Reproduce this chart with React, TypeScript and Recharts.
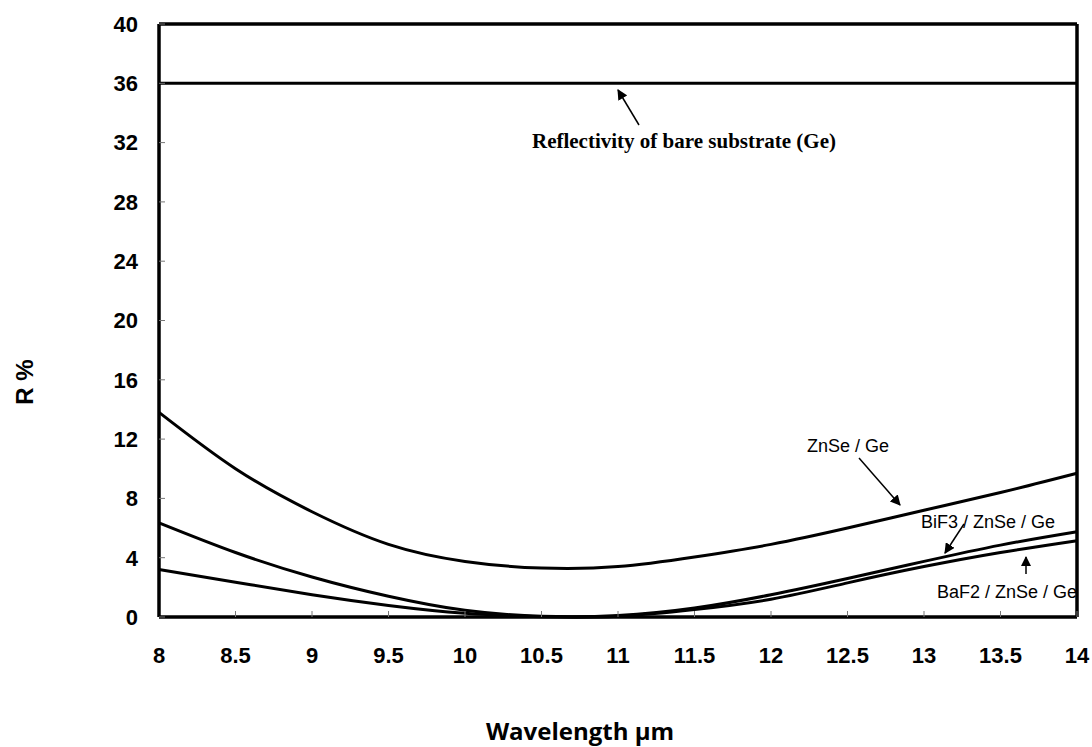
import React from "react";
import { LineChart, Line, XAxis, YAxis, ReferenceLine } from "recharts";

// wavelength (µm)
const wavelength = [8, 8.5, 9, 9.5, 10, 10.5, 11, 11.5, 12, 12.5, 13, 13.5, 14];
// reflectance R %
const bareGe = [36, 36, 36, 36, 36, 36, 36, 36, 36, 36, 36, 36, 36];
const znseGe = [13.8, 10.0, 7.1, 4.9, 3.75, 3.3, 3.4, 4.05, 4.9, 6.0, 7.2, 8.4, 9.7];
const bif3ZnseGe = [6.35, 4.35, 2.7, 1.4, 0.45, 0.05, 0.1, 0.6, 1.5, 2.6, 3.75, 4.85, 5.75];
const baf2ZnseGe = [3.2, 2.35, 1.5, 0.78, 0.25, 0.02, 0.05, 0.5, 1.2, 2.3, 3.4, 4.35, 5.15];

const xTicks = [8, 8.5, 9, 9.5, 10, 10.5, 11, 11.5, 12, 12.5, 13, 13.5, 14];
const yTicks = [0, 4, 8, 12, 16, 20, 24, 28, 32, 36, 40];

const data = wavelength.map((w, i) => ({
  w,
  bare: bareGe[i],
  znse: znseGe[i],
  bif3: bif3ZnseGe[i],
  baf2: baf2ZnseGe[i],
}));

const tickFont = {
  fontFamily: "'Liberation Sans', Arial, sans-serif",
  fontWeight: "bold" as const,
  fontSize: 22,
  fill: "#000",
};

const lineProps = {
  type: "natural" as const,
  stroke: "#000",
  strokeWidth: 3,
  dot: false,
  activeDot: false,
  isAnimationActive: false,
};

function Annotations() {
  const sans = "'Liberation Sans', Arial, sans-serif";
  return (
    <svg width={1092} height={747} style={{ position: "absolute", left: 0, top: 0 }}>
      <defs>
        <marker id="arrow" viewBox="0 0 10 10" refX="9" refY="5" markerWidth="7" markerHeight="7" orient="auto">
          <path d="M0,0 L10,5 L0,10 z" fill="#000" />
        </marker>
      </defs>
      <g stroke="#000" strokeWidth={1.5} markerEnd="url(#arrow)">
        <line x1={639} y1={125} x2={618} y2={90} />
        <line x1={859} y1={458} x2={900} y2={505} />
        <line x1={964} y1={524} x2={945} y2={553} />
        <line x1={1026} y1={574} x2={1026} y2={557} />
      </g>
      <text x={684} y={148} textAnchor="middle" fontFamily="'Liberation Serif', 'Times New Roman', serif" fontWeight="bold" fontSize={21}>
        Reflectivity of bare substrate (Ge)
      </text>
      <text x={807} y={452} fontFamily={sans} fontSize={18}>ZnSe / Ge</text>
      <text x={921} y={528} fontFamily={sans} fontSize={18}>BiF3 / ZnSe / Ge</text>
      <text x={937} y={598} fontFamily={sans} fontSize={18}>BaF2 / ZnSe / Ge</text>
      <text
        x={24}
        y={382}
        transform="rotate(-90 24 382)"
        textAnchor="middle"
        dominantBaseline="central"
        fontFamily={sans}
        fontWeight="bold"
        fontSize={24}
      >
        R %
      </text>
      <text x={580} y={740} textAnchor="middle" fontFamily="'Open Sans', sans-serif" fontWeight="bold" fontSize={24}>
        Wavelength µm
      </text>
    </svg>
  );
}

export default function App() {
  return (
    <div style={{ position: "absolute", left: 0, top: 0, width: 1092, height: 747, background: "#fff" }}>
      <Annotations />
      <div style={{ position: "absolute", left: 0, top: 0 }}>
        <LineChart width={1092} height={747} data={data} margin={{ top: 24, right: 15, left: 0, bottom: 0 }}>
          <XAxis
            dataKey="w"
            type="number"
            domain={[8, 14]}
            ticks={xTicks}
            height={130}
            tickSize={-6}
            tickMargin={36}
            fontSize={22}
            tick={tickFont}
            tickLine={{ stroke: "#777", strokeWidth: 1 }}
            axisLine={{ stroke: "#000", strokeWidth: 3.5 }}
            interval={0}
          />
          <YAxis
            type="number"
            domain={[0, 40]}
            ticks={yTicks}
            width={159}
            tickSize={-6}
            tickMargin={27}
            fontSize={22}
            tick={tickFont}
            tickLine={{ stroke: "#777", strokeWidth: 1 }}
            axisLine={{ stroke: "#000", strokeWidth: 3.5 }}
            interval={0}
          />
          <ReferenceLine y={40} stroke="#000" strokeWidth={3.5} />
          <ReferenceLine x={14} stroke="#000" strokeWidth={3.5} />
          <Line dataKey="bare" {...lineProps} />
          <Line dataKey="znse" {...lineProps} />
          <Line dataKey="bif3" {...lineProps} />
          <Line dataKey="baf2" {...lineProps} />
        </LineChart>
      </div>
    </div>
  );
}
